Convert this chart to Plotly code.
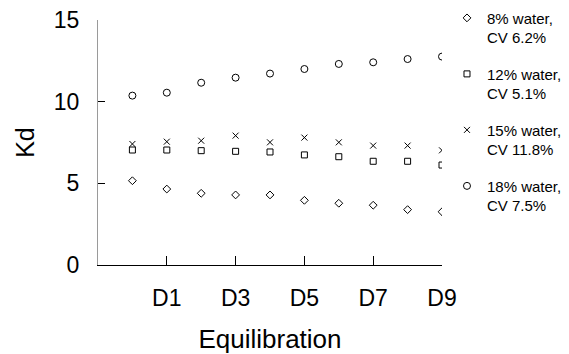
import plotly.graph_objects as go

days = ["D0", "D1", "D2", "D3", "D4", "D5", "D6", "D7", "D8", "D9"]
tick_days = ["D1", "D3", "D5", "D7", "D9"]

kd_8 = [5.16, 4.65, 4.39, 4.29, 4.29, 3.96, 3.78, 3.66, 3.39, 3.26]
kd_12 = [7.04, 7.04, 7.00, 6.96, 6.92, 6.74, 6.63, 6.35, 6.35, 6.12]
kd_15 = [7.41, 7.55, 7.61, 7.92, 7.51, 7.80, 7.51, 7.31, 7.31, 7.02]
kd_18 = [10.37, 10.55, 11.16, 11.47, 11.72, 12.00, 12.31, 12.41, 12.61, 12.76]

names = ["8% water,<br>CV 6.2%", "12% water,<br>CV 5.1%",
         "15% water,<br>CV 11.8%", "18% water,<br>CV 7.5%"]
series = [kd_8, kd_12, kd_15, kd_18]
symbols = ["diamond-open", "square-open", "x-thin-open", "circle-open"]
sizes = [6, 6, 6, 7]

fig = go.Figure()
for i, (nm, vals, sym, sz) in enumerate(zip(names, series, symbols, sizes)):
    fig.add_trace(go.Scatter(
        x=days, y=vals, mode="markers", name=nm, legendgroup=f"g{i}",
        marker=dict(symbol=sym, size=sz, color="black",
                    line=dict(color="black", width=1)),
    ))

font = "Liberation Sans, Arial, sans-serif"
fig.update_layout(
    width=561, height=346,
    margin=dict(l=90, r=127, t=12, b=89, autoexpand=False),
    paper_bgcolor="white", plot_bgcolor="white",
    font=dict(family=font, color="black"),
    showlegend=True,
    legend=dict(x=1.0145, y=0.626, xanchor="left", yanchor="middle",
                valign="top",
                font=dict(size=15, family=font), tracegroupgap=14,
                bgcolor="rgba(0,0,0,0)", borderwidth=0),
    xaxis=dict(type="category", categoryorder="array", categoryarray=days,
               range=[-1, 9], tickvals=tick_days, ticktext=tick_days,
               ticks="inside", ticklen=9, tickcolor="black",
               showline=True, linecolor="black", linewidth=1,
               showgrid=False, zeroline=False, automargin=False,
               ticklabeloverflow="allow",
               tickfont=dict(size=23), ticklabelstandoff=12,
               title=dict(text="Equilibration", font=dict(size=26), standoff=22)),
    yaxis=dict(range=[0, 15], tickvals=[0, 5, 10, 15],
               ticks="inside", ticklen=7, tickcolor="black",
               showline=True, linecolor="#9a9a9a", linewidth=1,
               showgrid=False, zeroline=False, automargin=False,
               ticklabeloverflow="allow",
               tickfont=dict(size=23), ticklabelstandoff=13,
               title=dict(text="Kd", font=dict(size=25), standoff=12)),
)

fig.write_html("out.html")
